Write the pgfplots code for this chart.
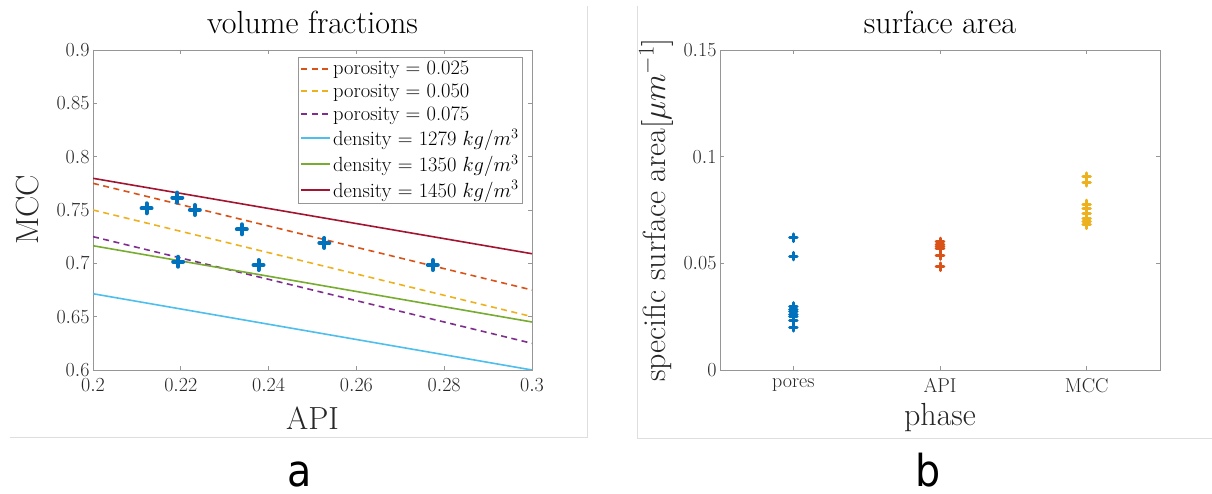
\RequirePackage{fix-cm}
\documentclass[border=0pt]{standalone}
\usepackage{fontspec}
\newfontfamily\dejavu{DejaVu Sans}
\usepackage{pgfplots}
\pgfplotsset{compat=1.18}
\definecolor{mblue}{RGB}{0,114,189}
\definecolor{morange}{RGB}{217,83,25}
\definecolor{myellow}{RGB}{237,177,32}
\definecolor{mpurple}{RGB}{126,47,142}
\definecolor{mgreen}{RGB}{119,172,48}
\definecolor{mcyan}{RGB}{77,190,238}
\definecolor{mred}{RGB}{162,20,47}
\definecolor{axgray}{RGB}{150,150,150}
\definecolor{txtgray}{RGB}{38,38,38}
\pgfplotsset{
  mstyle/.style={
    scale only axis,
    height=320pt,
    axis line style={draw=axgray, line width=0.8pt},
    every tick/.style={draw=axgray, line width=0.8pt},
    major tick length=4pt,
    tick align=inside,
    ticklabel style={font=\fontsize{20}{24}\selectfont, text=txtgray},
    xticklabel style={yshift=-5pt},
    scaled x ticks=false, scaled y ticks=false,
    title style={at={(axis description cs:0.5,1.069)}, anchor=center, font=\fontsize{32}{38}\selectfont},
    label style={font=\fontsize{32}{38}\selectfont, text=txtgray},
  }
}
\begin{document}
\begin{tikzpicture}[x=1pt,y=1pt]
\useasboundingbox (0,0) rectangle (1212,494);
\draw[black!13, line width=1pt] (587,488) -- (587,56) -- (10,56);
\draw[black!13, line width=1pt] (637,488) -- (637,55) -- (1212,55);
\node[font=\dejavu\fontsize{44}{52}\selectfont, anchor=base, inner sep=0pt, xscale=0.9] at (300,7) {a};
\node[font=\dejavu\fontsize{44}{52}\selectfont, anchor=base, inner sep=0pt, xscale=0.9] at (928,7) {b};
% ---------------- left panel
\begin{axis}[mstyle,
  at={(93pt,124pt)}, anchor=south west, width=439pt,
  xmin=0.2, xmax=0.3, ymin=0.6, ymax=0.9,
  xtick={0.2,0.22,0.24,0.26,0.28,0.3},
  ytick={0.6,0.65,0.7,0.75,0.8,0.85,0.9},
  title={volume fractions},
  xlabel={API}, ylabel={MCC},
  xlabel style={at={(axis description cs:0.5,-0.15)}, anchor=center},
  ylabel style={at={(axis description cs:-0.150,0.5)}, anchor=center},
  legend style={at={(axis description cs:0.979,0.978)}, anchor=north east,
    draw=none, name=leg, font=\fontsize{20.5}{24}\selectfont,
    inner sep=2pt, row sep=3.5pt, cells={anchor=west},
    nodes={inner sep=2pt}},
  legend image code/.code={\draw[#1, line width=1.8pt] (0pt,0pt) -- (29pt,0pt);},
]
\addplot[color=morange, draw=morange, line width=1.6pt, dash pattern=on 6pt off 4.5pt] coordinates {(0.2,0.775) (0.3,0.675)};
\addlegendentry{porosity $=$ 0.025}
\addplot[color=myellow, draw=myellow, line width=1.6pt, dash pattern=on 6pt off 4.5pt] coordinates {(0.2,0.750) (0.3,0.650)};
\addlegendentry{porosity $=$ 0.050}
\addplot[color=mpurple, draw=mpurple, line width=1.6pt, dash pattern=on 6pt off 4.5pt] coordinates {(0.2,0.725) (0.3,0.625)};
\addlegendentry{porosity $=$ 0.075}
\addplot[color=mcyan, draw=mcyan, line width=1.6pt] coordinates {(0.2,0.6715) (0.3,0.600)};
\addlegendentry{density $=$ 1279 $kg/m^3$}
\addplot[color=mgreen, draw=mgreen, line width=1.6pt] coordinates {(0.2,0.7165) (0.3,0.6450)};
\addlegendentry{density $=$ 1350 $kg/m^3$}
\addplot[color=mred, draw=mred, line width=1.6pt] coordinates {(0.2,0.7797) (0.3,0.7090)};
\addlegendentry{density $=$ 1450 $kg/m^3$}
\addplot[only marks, mark=+, mark size=5pt, mblue, line width=4pt,
  mark options={line cap=round}, forget plot] coordinates {
  (0.2122,0.7516) (0.2192,0.7616) (0.2232,0.7500) (0.2339,0.7319)
  (0.2527,0.7191) (0.2774,0.6984) (0.2194,0.7015) (0.2377,0.6984)};
\end{axis}
\draw[axgray, line width=0.8pt] (leg.south west) rectangle (leg.north east);
% ---------------- right panel
\begin{axis}[mstyle,
  at={(720pt,124pt)}, anchor=south west, width=440pt,
  xmin=-0.5, xmax=2.5, ymin=0, ymax=0.15,
  xtick={0,1,2}, xticklabels={pores,API,MCC},
  ytick={0,0.05,0.1,0.15},
  yticklabel style={/pgf/number format/fixed, /pgf/number format/precision=2},
  title={surface area},
  xlabel={phase}, ylabel={specific surface area$[\mu m^{-1}]$},
  xlabel style={at={(axis description cs:0.5,-0.15)}, anchor=center},
  ylabel style={at={(axis description cs:-0.145,0.5)}, anchor=center, font=\fontsize{32}{38}\selectfont},
]
\addplot[only marks, mark=+, mark size=3.8pt, mblue, line width=3pt,
  mark options={line cap=round}] coordinates {
  (0,0.0620) (0,0.0534) (0,0.0298) (0,0.0285) (0,0.0272) (0,0.0262)
  (0,0.0250) (0,0.0230) (0,0.0200)};
\addplot[only marks, mark=+, mark size=3.8pt, morange, line width=3pt,
  mark options={line cap=round}] coordinates {
  (1,0.0600) (1,0.0588) (1,0.0578) (1,0.0570) (1,0.0536) (1,0.0484)};
\addplot[only marks, mark=+, mark size=3.8pt, myellow, line width=3pt,
  mark options={line cap=round}] coordinates {
  (2,0.0906) (2,0.0880) (2,0.0778) (2,0.0755) (2,0.0735) (2,0.0712)
  (2,0.0695) (2,0.0680)};
\end{axis}
\end{tikzpicture}
\end{document}
